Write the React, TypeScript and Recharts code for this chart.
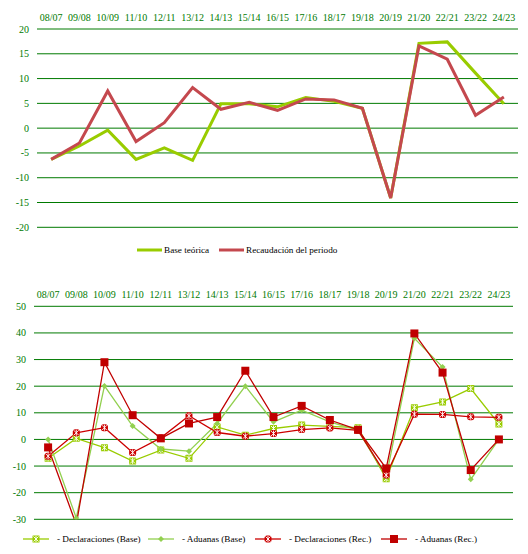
import { LineChart, Line, XAxis, YAxis, CartesianGrid } from 'recharts'

const categories = ['08/07', '09/08', '10/09', '11/10', '12/11', '13/12', '14/13', '15/14', '16/15', '17/16', '18/17', '19/18', '20/19', '21/20', '22/21', '23/22', '24/23']

// top chart
const baseTeorica = [-6.3, -3.6, -0.4, -6.3, -4.0, -6.5, 4.9, 4.9, 4.3, 6.2, 5.4, 4.0, -14.1, 17.1, 17.4, 11.1, 4.9]
const recaudacion = [-6.3, -3.0, 7.5, -2.7, 1.1, 8.2, 3.8, 5.2, 3.6, 5.9, 5.7, 4.0, -14.1, 16.6, 13.9, 2.6, 6.3]
const topTicks = [-20, -15, -10, -5, 0, 5, 10, 15, 20]

// bottom chart
const declBase = [-7.1, 0.4, -3.1, -8.1, -4.0, -7.1, 4.7, 1.6, 4.1, 5.4, 4.9, 4.4, -14.8, 11.9, 14.1, 19.1, 5.8]
const aduBase = [0, -29.5, 20.1, 5.0, -3.6, -4.4, 6.0, 20.0, 6.6, 11.0, 6.6, 3.4, -14.0, 38.0, 27.2, -15.0, 0]
const declRec = [-6.3, 2.5, 4.4, -4.9, 0.6, 8.9, 2.6, 1.2, 2.2, 3.7, 4.3, 3.4, -13.4, 9.5, 9.4, 8.5, 8.3]
const aduRec = [-3.0, -32.0, 29.0, 9.1, 0.4, 6.0, 8.4, 25.8, 8.4, 12.6, 7.3, 3.6, -10.9, 39.8, 25.1, -11.5, 0]
const bottomTicks = [-30, -20, -10, 0, 10, 20, 30, 40, 50]

const GRID = '#007A00'
const FONT = '"Liberation Serif", "Times New Roman", serif'
const tickStyle = { fill: '#007A00', fontSize: 10, fontFamily: FONT }

const topData = categories.map((c, i) => ({
  name: c,
  base: baseTeorica[i],
  rec: recaudacion[i],
}))

const bottomData = categories.map((c, i) => ({
  name: c,
  declBase: declBase[i],
  aduBase: aduBase[i],
  declRec: declRec[i],
  aduRec: aduRec[i],
}))

function XMark({ cx, cy, fill, round }: any) {
  return (
    <g>
      <rect x={cx - 3.5} y={cy - 3.5} width={7} height={7} rx={round ? 2.5 : 0.5} fill={fill} />
      <path d={`M${cx - 2.5},${cy - 2.5}L${cx + 2.5},${cy + 2.5}M${cx + 2.5},${cy - 2.5}L${cx - 2.5},${cy + 2.5}M${cx},${cy - 3}L${cx},${cy + 3}`} stroke="#fff" strokeWidth={0.9} />
    </g>
  )
}

function Diamond({ cx, cy, fill }: any) {
  return <path d={`M${cx},${cy - 3}L${cx + 3},${cy}L${cx},${cy + 3}L${cx - 3},${cy}Z`} fill={fill} />
}

function Square({ cx, cy, fill }: any) {
  return <rect x={cx - 4} y={cy - 4} width={8} height={8} fill={fill} />
}

const bottomSeries = [
  { key: 'declBase', name: '- Declaraciones (Base)', color: '#99CC00', marker: 'x' },
  { key: 'aduBase', name: '- Aduanas (Base)', color: '#92D050', marker: 'diamond' },
  { key: 'declRec', name: '- Declaraciones (Rec.)', color: '#CC0000', marker: 'xr' },
  { key: 'aduRec', name: '- Aduanas (Rec.)', color: '#C00000', marker: 'square' },
]

function marker(kind: string, cx: number, cy: number, fill: string) {
  if (kind === 'x') return <XMark cx={cx} cy={cy} fill={fill} />
  if (kind === 'xr') return <XMark cx={cx} cy={cy} fill={fill} round />
  if (kind === 'diamond') return <Diamond cx={cx} cy={cy} fill={fill} />
  return <Square cx={cx} cy={cy} fill={fill} />
}

const legendText = { position: 'absolute' as const, fontFamily: FONT, fontSize: 9.2, color: '#000', lineHeight: '12px', whiteSpace: 'nowrap' as const }

export default function App() {
  const topLegend = [
    { name: 'Base teórica', color: '#99CC00', x: 137, tx: 164 },
    { name: 'Recaudación del periodo', color: '#C4484E', x: 219, tx: 246 },
  ]
  const bottomLegendX = [23, 148, 255, 381]

  return (
    <div style={{ position: 'absolute', left: 0, top: 0, width: 528, height: 554, background: '#fff' }}>
      <div style={{ position: 'absolute', left: 0, top: 0 }}>
        <LineChart width={528} height={234} data={topData} margin={{ top: 9, right: 10, bottom: 6.7, left: 0 }}>
          <CartesianGrid vertical={false} stroke={GRID} strokeWidth={1} />
          <XAxis
            dataKey="name"
            orientation="top"
            height={20}
            axisLine={false}
            tickLine={false}
            interval={0}
            tick={tickStyle}
            padding={{ left: 14.15, right: 14.15 }}
          />
          <YAxis
            domain={[-20, 20]}
            ticks={topTicks}
            width={37}
            axisLine={false}
            tickLine={false}
            tick={tickStyle}
            interval={0}
          />
          <Line dataKey="base" stroke="#99CC00" strokeWidth={3} dot={false} isAnimationActive={false} strokeLinejoin="miter" />
          <Line dataKey="rec" stroke="#C4484E" strokeWidth={3} dot={false} isAnimationActive={false} strokeLinejoin="miter" />
        </LineChart>
      </div>

      {topLegend.map((l) => (
        <div key={l.name}>
          <svg style={{ position: 'absolute', left: l.x, top: 248 }} width={25} height={4}>
            <line x1={0} y1={2} x2={25} y2={2} stroke={l.color} strokeWidth={3} />
          </svg>
          <div style={{ ...legendText, left: l.tx, top: 244 }}>{l.name}</div>
        </div>
      ))}

      <div style={{ position: 'absolute', left: 0, top: 280 }}>
        <LineChart width={528} height={245} data={bottomData} margin={{ top: 6.3, right: 15, bottom: 5.7, left: 0 }}>
          <CartesianGrid vertical={false} stroke={GRID} strokeWidth={1} />
          <XAxis
            dataKey="name"
            orientation="top"
            height={20}
            axisLine={false}
            tickLine={false}
            interval={0}
            tick={tickStyle}
            padding={{ left: 14.1, right: 14.1 }}
          />
          <YAxis
            domain={[-30, 50]}
            ticks={bottomTicks}
            width={34}
            axisLine={false}
            tickLine={false}
            tick={tickStyle}
            interval={0}
            allowDataOverflow
          />
          {bottomSeries.map((s) => (
            <Line
              key={s.key}
              dataKey={s.key}
              stroke={s.color}
              strokeWidth={1.3}
              isAnimationActive={false}
              dot={(p: any) => <g key={`${s.key}-${p.index}`}>{marker(s.marker, p.cx, p.cy, s.color)}</g>}
              activeDot={false}
            />
          ))}
        </LineChart>
      </div>

      {bottomSeries.map((s, i) => (
        <div key={s.key}>
          <svg style={{ position: 'absolute', left: bottomLegendX[i], top: 534 }} width={26} height={10}>
            <line x1={0} y1={5} x2={26} y2={5} stroke={s.color} strokeWidth={1.3} />
            {marker(s.marker, 13, 5, s.color)}
          </svg>
          <div style={{ ...legendText, left: bottomLegendX[i] + 34, top: 533 }}>{s.name}</div>
        </div>
      ))}
    </div>
  )
}
